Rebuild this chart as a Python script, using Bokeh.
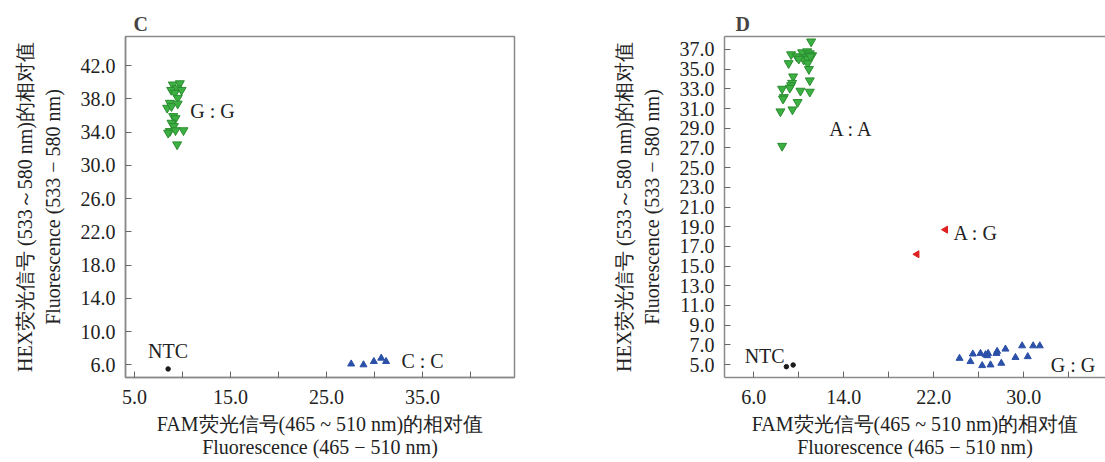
from bokeh.plotting import figure
from bokeh.layouts import row
from bokeh.models import FixedTicker, PrintfTickFormatter, Title, LinearAxis, Range1d, ColumnDataSource
from bokeh.core.properties import value
from bokeh.embed import file_html
from bokeh.resources import INLINE
import numpy as np

FONT = "Liberation Serif"
FS = "20px"
AX = "#8a8a8a"

# ---------------- Panel C data ----------------
c_gg_x = [8.99, 9.72, 8.82, 9.44, 9.9, 9.2, 9.5, 8.68, 8.4, 8.85, 9.5, 9.03, 9.27, 8.85, 9.1, 8.68, 9.27, 10.1, 8.5, 9.44]
c_gg_y = [39.7, 39.85, 39.05, 39.25, 39.05, 38.7, 38.1, 37.5, 36.9, 37.1, 37.4, 35.9, 35.65, 35.1, 34.7, 34.1, 34.2, 34.2, 33.9, 32.5]
c_cc_x = [27.57, 28.85, 29.93, 30.7, 31.2]
c_cc_y = [6.1, 6.0, 6.4, 6.8, 6.4]
c_ntc_x = [8.5]
c_ntc_y = [5.5]
c_lab_text = ["G : G", "C : C", "NTC"]
c_lab_x = [10.8, 32.8, 8.5]
c_lab_y = [36.5, 6.4, 7.6]
c_lab_align = ["left", "left", "center"]
c_xticks = [5, 15, 25, 35]
c_xminor = [10, 20, 30, 40]
c_yticks = [6, 10, 14, 18, 22, 26, 30, 34, 38, 42]

# ---------------- Panel D data ----------------
d_aa_x = [11.1, 9.32, 9.8, 10.3, 10.75, 10.98, 11.19, 10.6, 10.44, 10.8, 11.04, 10.0, 9.1, 10.8, 10.9,
          9.5, 9.41, 9.32, 10.98, 8.52, 9.2, 10.15, 10.98, 8.67, 8.6, 9.9, 8.37, 9.44, 8.52]
d_aa_y = [37.8, 36.5, 36.3, 36.7, 36.8, 36.6, 36.4, 36.2, 35.95, 36.05, 36.3, 36.05, 35.6, 35.6, 35.0,
          34.25, 33.6, 33.35, 33.85, 33.0, 33.1, 32.8, 32.7, 32.15, 32.0, 31.65, 30.7, 30.9, 27.2]
d_ag_x = [23.04, 20.5]
d_ag_y = [18.7, 16.2]
d_gg_x = [24.29, 25.26, 25.47, 26.15, 26.3, 26.6, 26.75, 26.83, 27.04, 27.57, 27.63, 28.0, 28.37, 29.26, 29.85, 30.35, 30.83, 31.42]
d_gg_y = [5.63, 5.3, 6.07, 6.13, 4.89, 6.0, 5.9, 6.13, 4.96, 6.13, 6.34, 5.13, 6.57, 5.72, 6.9, 5.8, 6.9, 6.9]
d_ntc_x = [8.9, 9.5]
d_ntc_y = [4.78, 4.95]
d_lab_text = ["A : A", "A : G", "NTC", "G : G"]
d_lab_x = [12.7, 23.75, 6.97, 32.4]
d_lab_y = [28.9, 18.35, 5.9, 5.0]
d_lab_align = ["left", "left", "center", "left"]
d_xticks = [6, 14, 22, 30]
d_xminor = [10, 18, 26, 34]
d_yticks = list(range(5, 38, 2))

XLAB1 = "FAM荧光信号(465 ~ 510 nm)的相对值"
XLAB2 = "Fluorescence (465 − 510 nm)"
YLAB1 = "HEX荧光信号 (533～580 nm)的相对值"
YLAB2 = "Fluorescence (533 − 580 nm)"

GREEN_F, GREEN_L = "#3cb043", "#2a8c2f"
BLUE = "#2b50a8"
RED = "#e02020"
BLACK = "#1a1a1a"


def style_axis(ax, ticks, minor, label, standoff_lab, label_standoff):
    ax.ticker = FixedTicker(ticks=ticks, minor_ticks=minor)
    ax.formatter = PrintfTickFormatter(format="%.1f")
    ax.axis_line_color = AX
    ax.axis_line_width = 1.5
    ax.major_tick_line_color = "#666666"
    ax.minor_tick_line_color = "#666666"
    ax.major_tick_in = 6
    ax.major_tick_out = 0
    ax.minor_tick_in = 6
    ax.minor_tick_out = 0
    ax.major_label_text_font = FONT
    ax.major_label_text_font_size = FS
    ax.major_label_text_color = "#222222"
    ax.major_label_standoff = standoff_lab
    ax.axis_label = label
    ax.axis_label_text_font = FONT
    ax.axis_label_text_font_size = FS
    ax.axis_label_text_font_style = "normal"
    ax.axis_label_text_color = "#222222"
    ax.axis_label_standoff = label_standoff


def make_panel(letter, width, xr, yr, mbl, mbr, xt, xm, yt, title_offset, outline):
    p = figure(width=width, height=460, x_range=Range1d(*xr), y_range=Range1d(*yr),
               output_backend="svg", toolbar_location=None,
               min_border_left=mbl, min_border_right=mbr, min_border_top=36, min_border_bottom=83)
    p.grid.visible = False
    p.background_fill_color = "white"
    p.border_fill_color = "white"
    if outline:
        p.outline_line_color = AX
        p.outline_line_width = 1.5
    else:
        p.outline_line_color = None
    p.title.text = letter
    p.title.text_font = FONT
    p.title.text_font_size = FS
    p.title.text_font_style = "bold"
    p.title.align = "left"
    p.title.offset = title_offset
    p.title.standoff = 3
    style_axis(p.xaxis[0], xt, xm, XLAB1, 12, 6)
    style_axis(p.yaxis[0], yt, [], YLAB2, 10, 14)
    t2 = Title(text=XLAB2, align="center", text_font=FONT, text_font_size=FS,
               text_font_style="normal", text_color="#222222", standoff=-8)
    p.add_layout(t2, "below")
    t1 = Title(text=YLAB1, align="center", text_font=FONT, text_font_size=FS,
               text_font_style="normal", text_color="#222222", standoff=6)
    p.add_layout(t1, "left")
    return p


pc = make_panel("C", 598, (4.06, 44.58), (4.47, 45.49), 125, 84, c_xticks, c_xminor, c_yticks, 8, True)
pc.scatter(c_gg_x, c_gg_y, marker="inverted_triangle", size=9, fill_color=GREEN_F, line_color=GREEN_L)
pc.scatter(c_cc_x, c_cc_y, marker="triangle", size=7, fill_color=BLUE, line_color=BLUE)
pc.scatter(c_ntc_x, c_ntc_y, marker="circle", size=4.5, fill_color=BLACK, line_color=BLACK)
pc.text(x="x", y="y", text="t", text_align="a", source=ColumnDataSource(dict(x=c_lab_x, y=c_lab_y, t=c_lab_text, a=c_lab_align)),
        text_font=value(FONT), text_font_size=FS, text_baseline="middle", text_color="#222222")

pd_ = make_panel("D", 507, (3.4, 37.26), (3.68, 38.32), 126, 0, d_xticks, d_xminor, d_yticks, 11, False)
top = LinearAxis(ticker=FixedTicker(ticks=[]), axis_line_color=AX, axis_line_width=1.5,
                 major_label_text_font_size="0px", major_tick_out=0, major_tick_in=0,
                 minor_tick_out=0, minor_tick_in=0, major_label_standoff=0)
pd_.add_layout(top, "above")
pd_.scatter(d_aa_x, d_aa_y, marker="inverted_triangle", size=9, fill_color=GREEN_F, line_color=GREEN_L)
pd_.scatter(d_ag_x, d_ag_y, marker="triangle", angle=np.pi / 2, size=7, fill_color=RED, line_color=RED)
pd_.scatter(d_gg_x, d_gg_y, marker="triangle", size=7, fill_color=BLUE, line_color=BLUE)
pd_.scatter(d_ntc_x, d_ntc_y, marker="circle", size=4.5, fill_color=BLACK, line_color=BLACK)
pd_.text(x="x", y="y", text="t", text_align="a", source=ColumnDataSource(dict(x=d_lab_x, y=d_lab_y, t=d_lab_text, a=d_lab_align)),
         text_font=value(FONT), text_font_size=FS, text_baseline="middle", text_color="#222222")

layout = row(pc, pd_)
open("out.html", "w").write(file_html(layout, INLINE))
